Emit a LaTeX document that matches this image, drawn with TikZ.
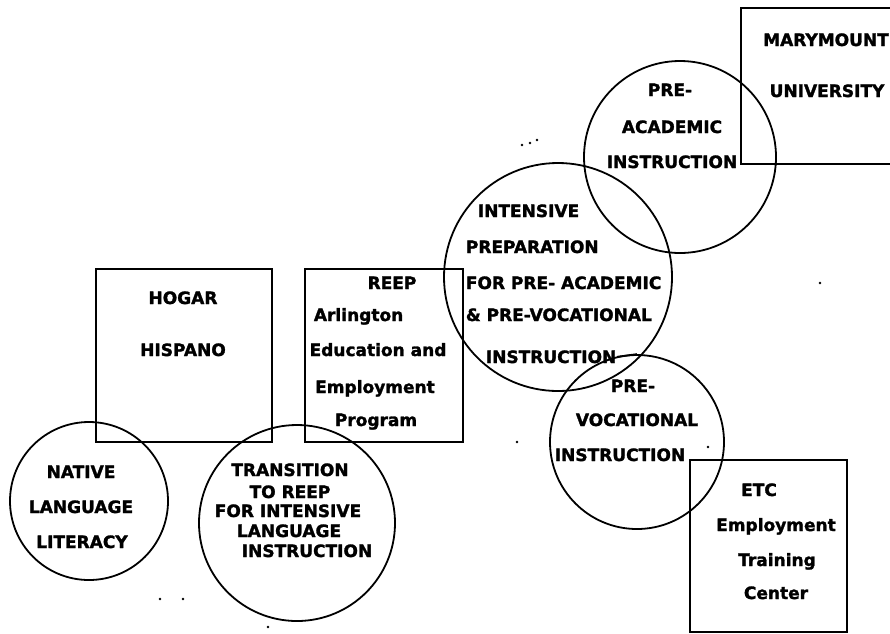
\documentclass[tikz,border=0pt]{standalone}
\usepackage{fontspec}
\setmainfont{DejaVu Sans}
\newfontfamily\heavy{DejaVu Sans}[UprightFont=* Bold,FakeBold=1.6]
\begin{document}
\begin{tikzpicture}[x=1pt,y=-1pt,line width=1.8pt,
  lbl/.style={font=\heavy\fontsize{17}{20}\selectfont,inner sep=0pt,anchor=base},
  lblw/.style={lbl,anchor=base west},
  box/.style={draw,inner sep=0pt},
  ring/.style={draw,circle,inner sep=0pt,minimum size=#1}]
  \useasboundingbox (0,0) rectangle (890,633);
  \clip (0,0) rectangle (890,633);
  % boxes
  \node[box,minimum width=176,minimum height=173] (hogar) at (184,355.5) {};
  \node[box,minimum width=158,minimum height=173] (reep) at (384,355.5) {};
  \node[box,minimum width=200,minimum height=156] (marymount) at (841,86) {};
  \node[box,minimum width=157,minimum height=172] (etc) at (768.5,546) {};
  % circles
  \node[ring=158] (native) at (89,501) {};
  \node[ring=196] (transition) at (297,523) {};
  \node[ring=192] (preacad) at (680,157) {};
  \node[ring=228] (intensive) at (558,277) {};
  \node[ring=174] (prevoc) at (637,442) {};
  % texts
  \node[lbl] (hogar1) at (183,304) {HOGAR};
  \node[lbl] (hogar2) at (183,356) {HISPANO};
  \node[lbl] (reep1) at (392,289) {REEP};
  \node[lblw] (reep2) at (313,321) {Arlington};
  \node[lbl] (reep3) at (378,356) {Education and};
  \node[lbl] (reep4) at (375,393) {Employment};
  \node[lbl] (reep5) at (376,426) {Program};
  \node[lbl] (native1) at (81,478) {NATIVE};
  \node[lbl] (native2) at (81,513) {LANGUAGE};
  \node[lbl] (native3) at (82,548) {LITERACY};
  \node[lbl] (trans1) at (290,476) {TRANSITION};
  \node[lbl] (trans2) at (290,498) {TO REEP};
  \node[lbl] (trans3) at (288,517) {FOR INTENSIVE};
  \node[lbl] (trans4) at (289,537) {LANGUAGE};
  \node[lbl] (trans5) at (307,557) {INSTRUCTION};
  \node[lbl] (mary1) at (826,46) {MARYMOUNT};
  \node[lbl] (mary2) at (827,97) {UNIVERSITY};
  \node[lbl] (preacad1) at (670,96) {PRE-};
  \node[lbl] (preacad2) at (672,133) {ACADEMIC};
  \node[lbl] (preacad3) at (672,168) {INSTRUCTION};
  \node[lblw] (int1) at (477,217) {INTENSIVE};
  \node[lblw] (int2) at (465,253) {PREPARATION};
  \node[lblw] (int3) at (465,289) {FOR PRE- ACADEMIC};
  \node[lblw] (int4) at (465,321) {\& PRE-VOCATIONAL};
  \node[lblw] (int5) at (485,363) {INSTRUCTION};
  \node[lbl] (prevoc1) at (633,392) {PRE-};
  \node[lbl] (prevoc2) at (637,426) {VOCATIONAL};
  \node[lbl] (prevoc3) at (620,461) {INSTRUCTION};
  \node[lbl] (etc1) at (759,496) {ETC};
  \node[lbl] (etc2) at (776,531) {Employment};
  \node[lbl] (etc3) at (777,566) {Training};
  \node[lbl] (etc4) at (776,599) {Center};
  \draw (int5.east) -- (prevoc.north);
  % specks
  \foreach \p in {(160,599),(183,599),(268,627),(522,145),(530,143),(537,140),(820,283),(517,442),(708,447)}
    \fill \p circle (1.4);
\end{tikzpicture}
\end{document}
